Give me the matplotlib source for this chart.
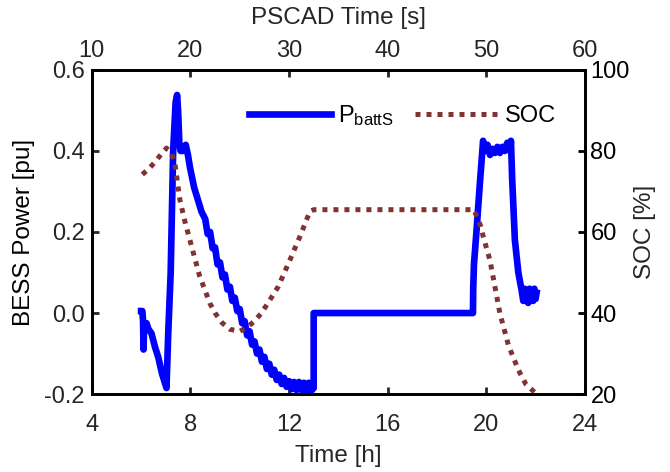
import matplotlib.pyplot as plt

plt.rcParams['font.family'] = ['Liberation Sans', 'DejaVu Sans']
plt.rcParams['mathtext.default'] = 'regular'

# battery power [pu] vs time [h]
p_time = [6.00, 6.05, 6.08, 6.10, 6.12, 6.22, 6.30, 6.42, 6.56, 6.70, 6.85, 7.03,
          7.10, 7.20, 7.30, 7.40, 7.46, 7.50, 7.55, 7.60, 7.70, 7.81, 7.90, 7.98,
          8.15, 8.30, 8.45,
          8.60, 8.70, 8.80, 8.90, 9.00, 9.10, 9.20, 9.30, 9.40, 9.50, 9.60, 9.70,
          9.80, 9.90, 10.00, 10.10, 10.20, 10.30, 10.40, 10.50, 10.60, 10.70, 10.80,
          10.90, 11.00, 11.10, 11.20, 11.30, 11.40, 11.50, 11.60, 11.70, 11.80, 11.90,
          12.00, 12.10, 12.20, 12.30, 12.40, 12.50, 12.60, 12.70, 12.80, 12.90, 13.00,
          13.00, 19.46, 19.47, 19.50, 19.60, 19.74,
          19.87, 19.95, 20.05, 20.15, 20.25, 20.35, 20.45, 20.55, 20.65, 20.75, 20.85,
          20.96, 21.00, 21.03, 21.05, 21.16, 21.30,
          21.43, 21.50, 21.55, 21.60, 21.65, 21.70, 21.75, 21.80, 21.85, 21.90, 21.95,
          22.00, 22.04]
p_batt = [0.005, 0.005, -0.02, -0.09, -0.03, -0.025, -0.04, -0.05, -0.083, -0.11, -0.15, -0.185,
          -0.05, 0.10, 0.40, 0.52, 0.538, 0.50, 0.42, 0.40, 0.40, 0.415, 0.39, 0.36,
          0.31, 0.28, 0.25,
          0.232, 0.195, 0.200, 0.160, 0.162, 0.120, 0.125, 0.088, 0.095, 0.058, 0.065, 0.030,
          0.038, 0.005, 0.010, -0.025, -0.020, -0.055, -0.045, -0.078, -0.070, -0.100, -0.090,
          -0.120, -0.108, -0.138, -0.125, -0.152, -0.140, -0.165, -0.152, -0.175, -0.160, -0.182,
          -0.168, -0.188, -0.170, -0.190, -0.170, -0.190, -0.172, -0.192, -0.172, -0.192, -0.185,
          0.0, 0.0, 0.06, 0.12, 0.20, 0.32,
          0.425, 0.400, 0.415, 0.390, 0.405, 0.395, 0.410, 0.395, 0.410, 0.400, 0.420,
          0.400, 0.425, 0.370, 0.330, 0.180, 0.100,
          0.057, 0.030, 0.060, 0.030, 0.055, 0.025, 0.060, 0.030, 0.055, 0.030, 0.060,
          0.035, 0.050]

# state of charge [%]
soc_time = [6.05, 6.30, 6.60, 6.85, 7.03, 7.23, 7.37, 7.57, 7.80, 7.98, 8.20, 8.38,
            8.60, 8.79, 9.00, 9.30, 9.60, 10.00, 10.30, 10.60, 10.88, 11.20, 11.56,
            12.03, 12.45, 12.84, 13.00, 19.50, 19.60, 19.77, 19.87, 20.15, 20.55,
            20.90, 21.30, 21.60, 21.95]
soc = [74.2, 75.5, 77.5, 79.5, 80.7, 79.4, 77.0, 68.0, 62.0, 58.0, 53.0, 49.0,
       45.5, 42.4, 40.0, 37.5, 36.0, 35.5, 36.5, 38.0, 40.0, 43.0, 46.5,
       53.0, 59.0, 65.0, 65.5, 65.5, 64.0, 61.5, 59.0, 53.0, 40.0,
       32.0, 26.0, 22.5, 20.5]

h_ticks = [4, 8, 12, 16, 20, 24]
s_ticks = [10, 20, 30, 40, 50, 60]
p_ticks = [-0.2, 0.0, 0.2, 0.4, 0.6]
soc_ticks = [20, 40, 60, 80, 100]

blue = '#0000ff'
brown = '#803333'
grey = '#262626'
fs = 17
lfs = 17.5

fig = plt.figure(figsize=(6.7, 4.72), dpi=100)
ax = fig.add_axes([0.137, 0.165, 0.736, 0.687])
ax2 = ax.twinx()

l1, = ax.plot(p_time, p_batt, color=blue, lw=4.8, solid_joinstyle='round', zorder=3)
l2, = ax2.plot(soc_time, soc, color=brown, lw=3.6, linestyle=(0, (1, 1.2)),
               dash_capstyle='butt')

ax.set_xlim(4, 24)
ax.set_ylim(-0.2, 0.6)
ax2.set_ylim(20, 100)
ax.set_xticks(h_ticks)
ax.set_yticks(p_ticks)
ax.set_yticklabels([f'{v:.1f}' for v in p_ticks])
ax2.set_yticks(soc_ticks)

for a in (ax, ax2):
    for s in a.spines.values():
        s.set_linewidth(2.0)
        s.set_color('black')
ax.tick_params(direction='in', length=5, width=2, labelsize=fs, colors=grey)
ax.tick_params(axis='x', pad=14)
ax.tick_params(axis='y', pad=5)
ax2.tick_params(direction='in', length=5, width=2, labelsize=fs, colors='black', pad=4)

top = ax.secondary_xaxis('top', functions=(lambda h: 10 + (h - 4) * 2.5,
                                           lambda s: 4 + (s - 10) / 2.5))
top.set_xticks(s_ticks)
top.tick_params(direction='in', length=5, width=2, labelsize=fs, colors=grey, pad=6)
top.set_xlabel('PSCAD Time [s]', fontsize=lfs, color=grey, labelpad=11)

ax.set_xlabel('Time [h]', fontsize=lfs, color=grey, labelpad=7)
ax.set_ylabel('BESS Power [pu]', fontsize=lfs, color='black', labelpad=7)
ax2.set_ylabel('SOC [%]', fontsize=lfs, color=grey, labelpad=3)

ax2.legend([l1, l2], ['P$_{battS}$', 'SOC'], loc='center', bbox_to_anchor=(0.63, 0.86),
           ncol=2, frameon=False, fontsize=fs, handlelength=3.5,
           handletextpad=0.3, columnspacing=0.9)

fig.savefig('out.png', dpi=100)
